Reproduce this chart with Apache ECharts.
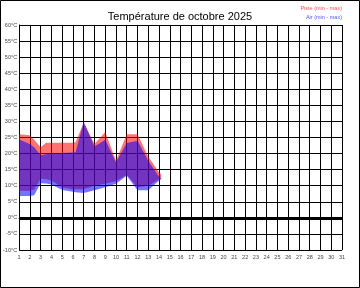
<!DOCTYPE html>
<html><head><meta charset="utf-8">
<script src="https://cdn.jsdelivr.net/npm/echarts@6/dist/echarts.min.js"></script>
<style>html,body{margin:0;padding:0;background:#fff}#c{width:360px;height:288px}</style>
</head><body><div id="c"></div>
<script>
var titleText = 'Température de octobre 2025';
var legendPiste = 'Piste (min - max)';
var legendAir = 'Air (min - max)';
var days = [1, 2, 2.4, 3, 3.5, 4, 5, 6, 6.25, 7, 8, 9, 10, 11, 12, 13, 14, 14.2];
var pisteMin = [8.4, 8.4, 8.8, 12.2, 12.0, 11.6, 9.5, 8.9, 8.9, 8.9, 10.0, 10.7, 11.4, 13.4, 9.5, 10.0, 12.0, 12.2];
var pisteMax = [26.0, 25.7, 24.3, 22.0, 23.4, 23.4, 23.4, 23.4, 23.5, 29.7, 23.0, 26.7, 17.8, 26.0, 26.0, 19.0, 14.2, 13.6];
var airMin = [6.8, 6.8, 7.0, 10.8, 10.7, 10.4, 8.7, 8.1, 8.0, 7.7, 8.6, 9.5, 10.6, 13.1, 8.6, 8.6, 11.6, 12.0];
var airMax = [24.4, 23.0, 22.0, 19.5, 19.8, 20.0, 20.2, 20.3, 20.4, 29.9, 22.2, 24.3, 17.3, 23.3, 24.0, 17.8, 12.8, 12.2];
var yMin = -10, yMax = 60, yStep = 5;
var xMin = 1, xMax = 31;

function bandData(lo, hi) { return days.map(function (d, i) { return [d, lo[i], hi[i]]; }); }

function bandSeries(lo, hi, color, extra) {
  var s = {
    type: 'custom',
    data: bandData(lo, hi),
    encode: {x: 0, y: [1, 2]},
    clip: true,
    silent: true,
    renderItem: function (params, api) {
      if (params.dataIndex !== 0) return null;
      var pts = [];
      for (var i = 0; i < days.length; i++) pts.push(api.coord([days[i], hi[i]]));
      for (var j = days.length - 1; j >= 0; j--) pts.push(api.coord([days[j], lo[j]]));
      return {type: 'polygon', shape: {points: pts}, style: {fill: color, stroke: null}};
    }
  };
  if (extra) for (var k in extra) s[k] = extra[k];
  return s;
}

var chart = echarts.init(document.getElementById('c'), null, {renderer: 'canvas'});
var font = 'Liberation Sans, Arial, sans-serif';
chart.setOption({
  animation: false,
  backgroundColor: '#fff',
  title: {text: titleText, left: 'center', top: 6, textStyle: {fontFamily: font, fontSize: 11, fontWeight: 'normal', color: '#000'}},
  grid: {left: 17, right: 18, top: 25, bottom: 38},
  xAxis: {type: 'value', min: xMin, max: xMax, interval: 1,
    axisLine: {lineStyle: {color: '#000', width: 1}}, axisTick: {show: false},
    splitLine: {show: true, lineStyle: {color: '#000', width: 1}},
    axisLabel: {fontFamily: font, fontSize: 5.5, color: '#444', margin: 4}},
  yAxis: {type: 'value', min: yMin, max: yMax, interval: yStep,
    axisLine: {show: true, lineStyle: {color: '#000', width: 1}}, axisTick: {show: false},
    splitLine: {show: true, lineStyle: {color: '#000', width: 1}},
    axisLabel: {formatter: '{value}°C', fontFamily: font, fontSize: 5.5, color: '#444', margin: 2}},
  series: [
    bandSeries(pisteMin, pisteMax, 'rgba(255,0,0,0.55)', {
      markLine: {silent: true, symbol: 'none', label: {show: false}, lineStyle: {color: '#000', width: 3, type: 'solid'}, data: [{yAxis: 0}]}
    }),
    bandSeries(airMin, airMax, 'rgba(0,0,255,0.55)')
  ],
  graphic: [
    {type: 'rect', shape: {x: 0.5, y: 0.5, width: 359, height: 287}, style: {fill: null, stroke: '#000', lineWidth: 1}, z: 100},
    {type: 'text', right: 18, top: 5, style: {text: legendPiste, fill: '#ff5555', font: '5.5px ' + font}},
    {type: 'text', right: 18, top: 14, style: {text: legendAir, fill: '#5555ff', font: '5.5px ' + font}}
  ]
});
</script></body></html>
